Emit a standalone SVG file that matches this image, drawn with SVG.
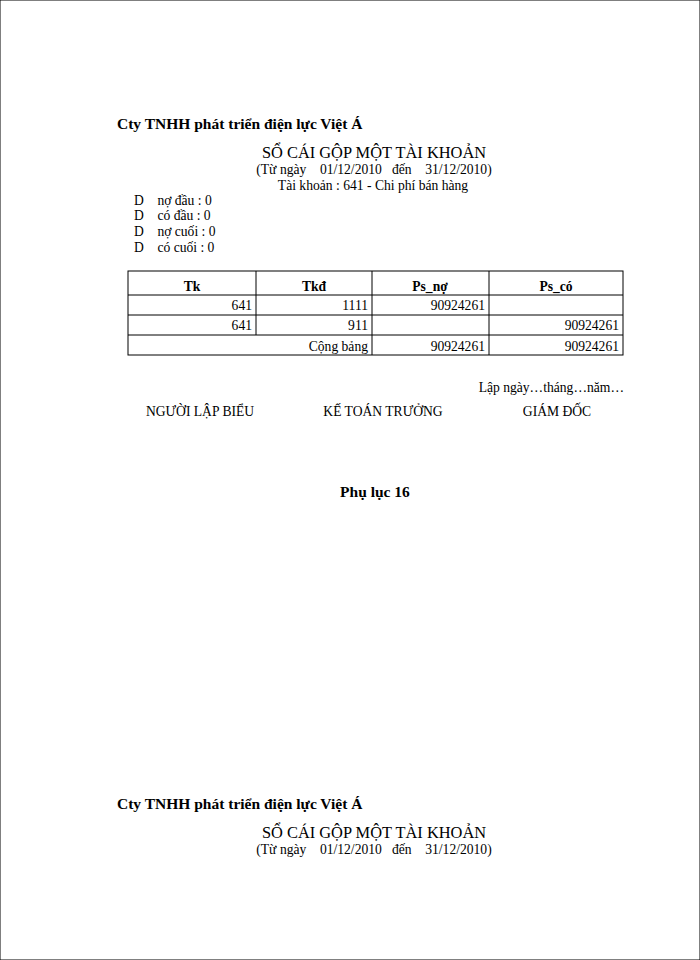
<svg xmlns="http://www.w3.org/2000/svg" width="700" height="960" viewBox="0 0 700 960">
<style>
text{font-family:"Liberation Serif",serif;fill:#000}
.s{font-size:13.6px}.h{font-size:15.5px;font-weight:bold}.t{font-size:16.4px}
.b{font-weight:bold}
line,rect{stroke:#000;stroke-width:1;fill:none}
</style>
<rect width="700" height="960" fill="#fff" stroke="none"/>
<g id="header1">
<text class="h" x="117" y="129">Cty TNHH phát triển  điện lực Việt  Á</text>
<text class="t" x="374" y="158" text-anchor="middle">SỔ CÁI GỘP MỘT TÀI KHOẢN</text>
<text class="s" x="374" y="174" text-anchor="middle" xml:space="preserve">(Từ ngày    01/12/2010   đến    31/12/2010)</text>
<text class="s" x="373" y="190" text-anchor="middle">Tài khoản : 641 - Chi phí bán hàng</text>
<text class="s" x="134" y="205" xml:space="preserve">D    nợ đầu : 0</text>
<text class="s" x="134" y="220" xml:space="preserve">D    có đầu : 0</text>
<text class="s" x="134" y="236" xml:space="preserve">D    nợ cuối : 0</text>
<text class="s" x="134" y="252" xml:space="preserve">D    có cuối : 0</text>
</g>
<g id="table">
<rect x="128" y="271" width="495" height="84"/>
<line x1="128" y1="295" x2="623" y2="295"/>
<line x1="128" y1="315" x2="623" y2="315"/>
<line x1="128" y1="335" x2="623" y2="335"/>
<line x1="256" y1="271" x2="256" y2="335"/>
<line x1="372" y1="271" x2="372" y2="355"/>
<line x1="489" y1="271" x2="489" y2="355"/>
<text class="s b" x="192" y="291" text-anchor="middle">Tk</text>
<text class="s b" x="314" y="291" text-anchor="middle">Tkđ</text>
<text class="s b" x="430" y="291" text-anchor="middle">Ps_nợ</text>
<text class="s b" x="556" y="291" text-anchor="middle">Ps_có</text>
<text class="s" x="252" y="310" text-anchor="end">641</text>
<text class="s" x="368" y="310" text-anchor="end">1111</text>
<text class="s" x="485" y="310" text-anchor="end">90924261</text>
<text class="s" x="252" y="330" text-anchor="end">641</text>
<text class="s" x="368" y="330" text-anchor="end">911</text>
<text class="s" x="619" y="330" text-anchor="end">90924261</text>
<text class="s" x="368" y="351" text-anchor="end">Cộng bảng</text>
<text class="s" x="485" y="351" text-anchor="end">90924261</text>
<text class="s" x="619" y="351" text-anchor="end">90924261</text>
</g>
<g id="signatures">
<text class="s" x="624" y="392" text-anchor="end">Lập ngày…tháng…năm…</text>
<text class="s" x="200" y="416" text-anchor="middle">NGƯỜI LẬP BIỂU</text>
<text class="s" x="383" y="416" text-anchor="middle">KẾ TOÁN TRƯỞNG</text>
<text class="s" x="557" y="416" text-anchor="middle">GIÁM ĐỐC</text>
</g>
<text class="h" x="375" y="497" text-anchor="middle">Phụ lục 16</text>
<g id="header2">
<text class="h" x="117" y="809">Cty TNHH phát triển  điện lực Việt  Á</text>
<text class="t" x="374" y="838" text-anchor="middle">SỔ CÁI GỘP MỘT TÀI KHOẢN</text>
<text class="s" x="374" y="854" text-anchor="middle" xml:space="preserve">(Từ ngày    01/12/2010   đến    31/12/2010)</text>
</g>
</svg>
